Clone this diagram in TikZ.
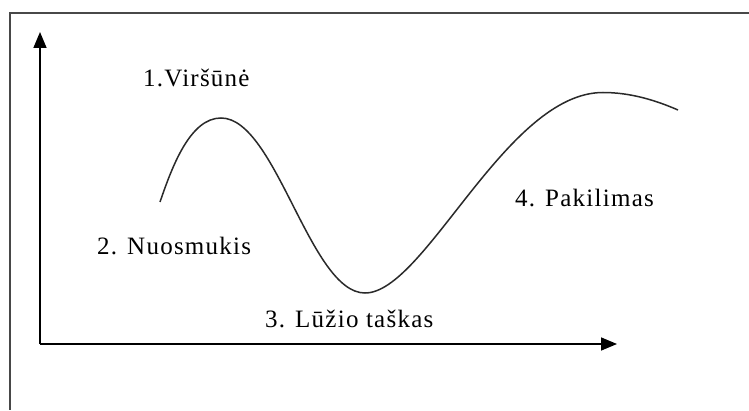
\documentclass[tikz,border=0pt]{standalone}
\usepackage{fontspec}
\setmainfont{Liberation Serif}
\newfontfamily\lblfont[LetterSpace=5]{Liberation Serif}
\usetikzlibrary{arrows.meta}
\definecolor{framegray}{HTML}{484848}
\definecolor{curvegray}{HTML}{2A2A2A}
\tikzset{
  lbl/.style={inner sep=0pt, anchor=base west, font=\lblfont\fontsize{25}{28}\selectfont, text=black},
  axis/.style={line width=1.6pt, black, -{Triangle[length=16pt,width=13pt]}},
  wave/.style={line width=1.5pt, curvegray},
}
\begin{document}
\begin{tikzpicture}[x=1pt,y=1pt]
\useasboundingbox (0,0) rectangle (749,410);
\fill[white] (0,0) rectangle (749,410);
% frame (only top and left edges visible)
\draw[framegray, line width=2.2pt] (749,397) -- (10,397) -- (10,0);
% axes
\coordinate (O) at (40,66);
\coordinate (Ytop) at (40,378);
\coordinate (Xend) at (617,66);
\draw[axis] (O) -- (Ytop);
\draw[axis] (O) -- (Xend);
% curve
\coordinate (c0) at (160,208);
\coordinate (c1) at (221,292);
\coordinate (c2) at (365,117);
\coordinate (c3) at (603,317.5);
\coordinate (c4) at (678,300);
\draw[wave] (c0) .. controls (172,243) and (190,292) .. (c1)
  .. controls (276,292) and (310,117) .. (c2)
  .. controls (425,117) and (506,317.5) .. (c3)
  .. controls (630,317.5) and (655,310) .. (c4);
% labels
\node[lbl] (l1) at (143,323) {1.Viršūnė};
\node[lbl] (l2) at (97,156) {2. Nuosmukis};
\node[lbl] (l3) at (265,83) {3. Lūžio taškas};
\node[lbl] (l4) at (515,203) {4. Pakilimas};
\end{tikzpicture}
\end{document}
